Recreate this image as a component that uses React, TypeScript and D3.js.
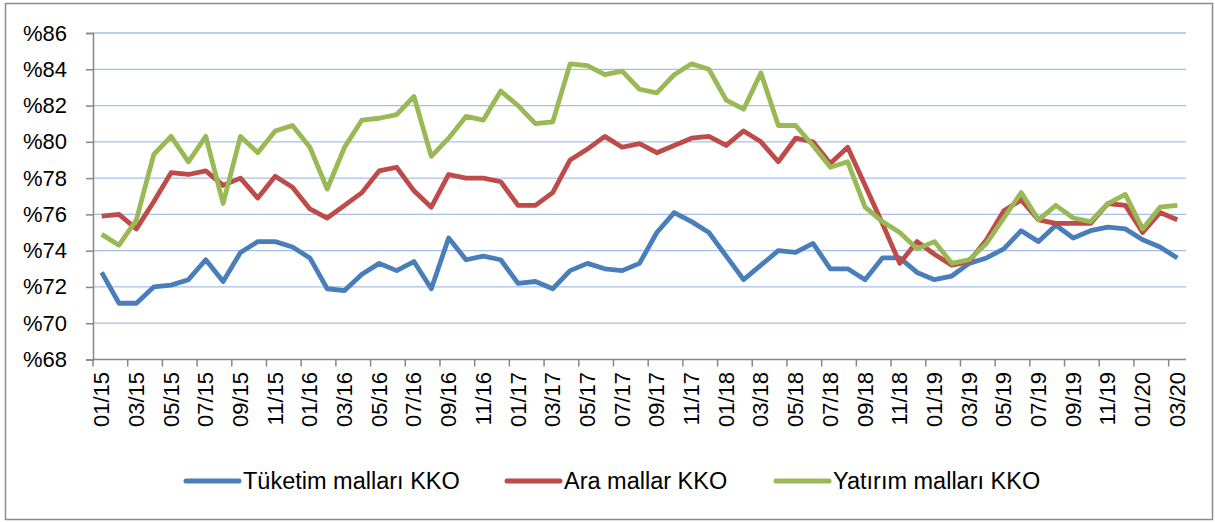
import React, {useEffect, useRef} from 'react'
import * as d3 from 'd3'

// months on the category axis (every other one gets a label)
const months = [
  '01/15', '02/15', '03/15', '04/15', '05/15', '06/15', '07/15', '08/15', '09/15', '10/15', '11/15', '12/15',
  '01/16', '02/16', '03/16', '04/16', '05/16', '06/16', '07/16', '08/16', '09/16', '10/16', '11/16', '12/16',
  '01/17', '02/17', '03/17', '04/17', '05/17', '06/17', '07/17', '08/17', '09/17', '10/17', '11/17', '12/17',
  '01/18', '02/18', '03/18', '04/18', '05/18', '06/18', '07/18', '08/18', '09/18', '10/18', '11/18', '12/18',
  '01/19', '02/19', '03/19', '04/19', '05/19', '06/19', '07/19', '08/19', '09/19', '10/19', '11/19', '12/19',
  '01/20', '02/20', '03/20',
]

const tuketim = [
  72.8, 71.1, 71.1, 72.0, 72.1, 72.4, 73.5, 72.3, 73.9, 74.5, 74.5, 74.2,
  73.6, 71.9, 71.8, 72.7, 73.3, 72.9, 73.4, 71.9, 74.7, 73.5, 73.7, 73.5,
  72.2, 72.3, 71.9, 72.9, 73.3, 73.0, 72.9, 73.3, 75.0, 76.1, 75.6, 75.0,
  73.7, 72.4, 73.2, 74.0, 73.9, 74.4, 73.0, 73.0, 72.4, 73.6, 73.6, 72.8,
  72.4, 72.6, 73.3, 73.6, 74.1, 75.1, 74.5, 75.4, 74.7, 75.1, 75.3, 75.2,
  74.6, 74.2, 73.6,
]

const ara = [
  75.9, 76.0, 75.2, 76.7, 78.3, 78.2, 78.4, 77.6, 78.0, 76.9, 78.1, 77.5,
  76.3, 75.8, 76.5, 77.2, 78.4, 78.6, 77.3, 76.4, 78.2, 78.0, 78.0, 77.8,
  76.5, 76.5, 77.2, 79.0, 79.6, 80.3, 79.7, 79.9, 79.4, 79.8, 80.2, 80.3,
  79.8, 80.6, 80.0, 78.9, 80.2, 80.0, 78.8, 79.7, 77.6, 75.5, 73.3, 74.5,
  73.8, 73.2, 73.4, 74.6, 76.2, 76.8, 75.7, 75.5, 75.5, 75.5, 76.6, 76.5,
  75.0, 76.1, 75.7,
]

const yatirim = [
  74.9, 74.3, 75.7, 79.3, 80.3, 78.9, 80.3, 76.6, 80.3, 79.4, 80.6, 80.9,
  79.7, 77.4, 79.7, 81.2, 81.3, 81.5, 82.5, 79.2, 80.2, 81.4, 81.2, 82.8,
  82.0, 81.0, 81.1, 84.3, 84.2, 83.7, 83.9, 82.9, 82.7, 83.7, 84.3, 84.0,
  82.3, 81.8, 83.8, 80.9, 80.9, 79.8, 78.6, 78.9, 76.4, 75.6, 75.0, 74.1,
  74.5, 73.3, 73.5, 74.4, 75.8, 77.2, 75.7, 76.5, 75.8, 75.6, 76.6, 77.1,
  75.2, 76.4, 76.5,
]

const seriesNames = ['Tüketim malları KKO', 'Ara mallar KKO', 'Yatırım malları KKO']
const seriesColors = ['#4A7EBB', '#BE4B48', '#98B954']
const yTicks = [68, 70, 72, 74, 76, 78, 80, 82, 84, 86]

const W = 1215
const H = 522
const FONT = '"Liberation Sans", Arial, sans-serif'

const Chart = () => {
  const ref = useRef(null)

  useEffect(() => {
    const svg = d3.select(ref.current)
    svg.selectAll('*').remove()

    const left = 93
    const right = 1186
    const top = 33
    const bottom = 359.5

    const x = d3.scaleBand().domain(months).range([left, right]).paddingInner(0).paddingOuter(0)
    const y = d3.scaleLinear().domain([68, 86]).range([bottom, top])
    const cx = (i) => x(months[i]) + x.bandwidth() / 2

    // outer frame
    svg
      .append('rect')
      .attr('x', 5.5)
      .attr('y', 3.5)
      .attr('width', 1207)
      .attr('height', 516)
      .attr('fill', 'white')
      .attr('stroke', '#8c8c8c')
      .attr('stroke-width', 1.5)

    // gridlines
    svg
      .append('g')
      .selectAll('line')
      .data(yTicks.slice(1))
      .join('line')
      .attr('x1', left)
      .attr('x2', right)
      .attr('y1', (d) => y(d))
      .attr('y2', (d) => y(d))
      .attr('stroke', '#A7BFE7')
      .attr('stroke-width', 1.3)

    // y axis
    const yAxis = d3
      .axisLeft(y)
      .tickValues(yTicks)
      .tickSize(7)
      .tickFormat((d) => '%' + d)
    const gy = svg.append('g').attr('transform', `translate(${left},0)`).call(yAxis)
    gy.select('.domain').attr('stroke', '#868686').attr('stroke-width', 1.5)
    gy.selectAll('.tick line').attr('stroke', '#868686').attr('stroke-width', 1.5)
    gy.selectAll('.tick text')
      .attr('x', -26)
      .attr('font-family', FONT)
      .attr('font-size', 22)
      .attr('fill', '#000')

    // x axis: ticks every second category boundary
    svg
      .append('line')
      .attr('x1', left)
      .attr('x2', right)
      .attr('y1', bottom)
      .attr('y2', bottom)
      .attr('stroke', '#868686')
      .attr('stroke-width', 1.5)
    const tickIdx = months.map((m, i) => i).filter((i) => i % 2 === 0)
    svg
      .append('g')
      .selectAll('line')
      .data(tickIdx)
      .join('line')
      .attr('x1', (i) => x(months[i]))
      .attr('x2', (i) => x(months[i]))
      .attr('y1', bottom)
      .attr('y2', bottom + 7)
      .attr('stroke', '#868686')
      .attr('stroke-width', 1.5)
    svg
      .append('g')
      .selectAll('text')
      .data(tickIdx)
      .join('text')
      .attr('transform', (i) => `translate(${cx(i) + 7.5},372) rotate(-90)`)
      .attr('text-anchor', 'end')
      .attr('font-family', FONT)
      .attr('font-size', 22)
      .attr('fill', '#000')
      .text((i) => months[i])

    // series lines
    const line = d3
      .line()
      .x((d, i) => cx(i))
      .y((d) => y(d))
    svg
      .append('g')
      .selectAll('path')
      .data([tuketim, ara, yatirim])
      .join('path')
      .attr('d', line)
      .attr('fill', 'none')
      .attr('stroke', (d, i) => seriesColors[i])
      .attr('stroke-width', 4.8)
      .attr('stroke-linejoin', 'round')

    // legend
    const legendX = [186, 507, 776]
    const lg = svg
      .append('g')
      .selectAll('g')
      .data(seriesNames)
      .join('g')
      .attr('transform', (d, i) => `translate(${legendX[i]},481)`)
    lg.append('line')
      .attr('x1', 0)
      .attr('x2', 53)
      .attr('stroke', (d, i) => seriesColors[i])
      .attr('stroke-width', 5)
      .attr('stroke-linecap', 'round')
    lg.append('text')
      .attr('x', 57)
      .attr('y', 8)
      .attr('font-family', FONT)
      .attr('font-size', 23.5)
      .attr('fill', '#000')
      .text((d) => d)
  }, [])

  return <svg ref={ref} width={W} height={H} style={{position: 'absolute', left: 0, top: 0}} />
}

export default function App() {
  return <Chart />
}
